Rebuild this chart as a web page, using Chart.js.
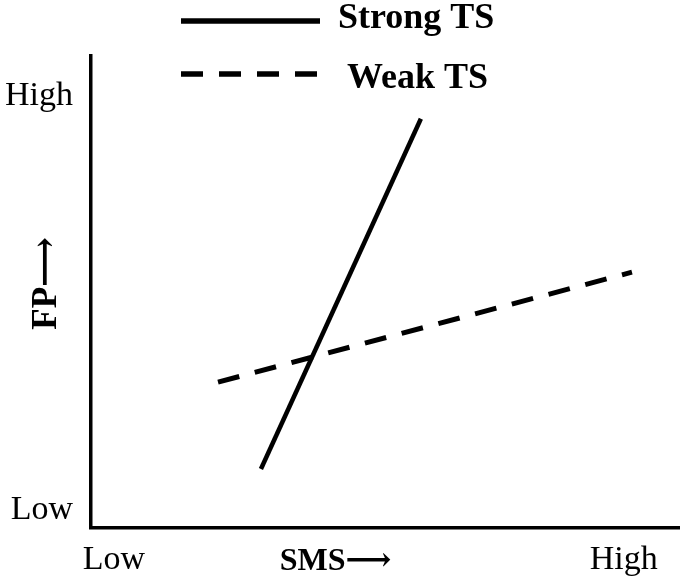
<!DOCTYPE html>
<html>
<head>
<meta charset="utf-8">
<script src="https://cdn.jsdelivr.net/npm/chart.js@4.4.1/dist/chart.umd.min.js"></script>
<style>
  html, body { margin: 0; padding: 0; background: #ffffff; }
  #wrap { width: 685px; height: 580px; }
</style>
</head>
<body>
<div id="wrap"><canvas id="c" width="685" height="580"></canvas></div>
<script>
// ---- data ----
const seriesNames = ['Strong TS', 'Weak TS'];
const strongX = [28.9, 56.1];
const strongY = [12.5, 86.7];
const weakX = [21.6, 92.0];
const weakY = [30.9, 54.2];
const xTickValues = [3.9, 41.6, 90.6];
const xTickLabels = ['Low', 'SMS\u27F6', 'High'];
const yTickValues = [3.9, 91.6];
const yTickLabels = ['Low', 'High'];
const yTitle = '  FP\u27F6';

const toPoints = (xs, ys) => xs.map((x, i) => ({ x: x, y: ys[i] }));
const SERIF = '"Liberation Serif", "Times New Roman", "DejaVu Serif", serif';

const legendPlugin = {
  id: 'manualLegend',
  afterDraw(chart, args, opts) {
    const ctx = chart.ctx;
    chart.data.datasets.forEach((ds, i) => {
      const r = opts.rows[i];
      ctx.save();
      ctx.strokeStyle = ds.borderColor;
      ctx.lineWidth = opts.lineWidth;
      ctx.lineCap = 'butt';
      ctx.setLineDash(ds.borderDash || []);
      ctx.beginPath();
      ctx.moveTo(r.x0, r.y);
      ctx.lineTo(r.x1, r.y);
      ctx.stroke();
      ctx.setLineDash([]);
      ctx.font = 'bold 36px ' + SERIF;
      ctx.fillStyle = '#000';
      ctx.textBaseline = 'alphabetic';
      ctx.textAlign = 'left';
      ctx.fillText(ds.label, r.tx, r.ty);
      ctx.restore();
    });
  }
};

new Chart(document.getElementById('c'), {
  type: 'scatter',
  data: {
    datasets: [
      {
        label: seriesNames[0],
        data: toPoints(strongX, strongY),
        showLine: true,
        borderColor: '#000',
        borderWidth: 4.5,
        borderDash: [],
        pointRadius: 0,
        borderCapStyle: 'butt'
      },
      {
        label: seriesNames[1],
        data: toPoints(weakX, weakY),
        showLine: true,
        borderColor: '#000',
        borderWidth: 5,
        borderDash: [22, 16],
        pointRadius: 0,
        borderCapStyle: 'butt'
      }
    ]
  },
  options: {
    responsive: false,
    animation: false,
    devicePixelRatio: 1,
    layout: { padding: { top: 56, right: 6, bottom: 0, left: 0 } },
    plugins: {
      legend: { display: false },
      tooltip: { enabled: false },
      manualLegend: {
        lineWidth: 5.5,
        rows: [
          { x0: 181, x1: 320, y: 21, tx: 338, ty: 28 },
          { x0: 181, x1: 317, y: 74, tx: 347, ty: 88 }
        ]
      }
    },
    scales: {
      x: {
        type: 'linear',
        min: 0,
        max: 100,
        grid: { display: false, drawTicks: false },
        border: { display: true, color: '#000', width: 3.5 },
        afterBuildTicks: (s) => { s.ticks = xTickValues.map(v => ({ value: v })); },
        afterFit: (s) => { s.height = 52; },
        ticks: {
          autoSkip: false,
          maxRotation: 0,
          padding: 12,
          color: '#000',
          callback: (v, i) => xTickLabels[i],
          font: (ctx) => ctx.index === 1
            ? { family: SERIF, size: 32, weight: 'bold', lineHeight: 1.35 }
            : { family: SERIF, size: 34, weight: 'normal', lineHeight: 1.2 }
        }
      },
      y: {
        type: 'linear',
        min: 0,
        max: 100,
        grid: { display: false, drawTicks: false },
        border: { display: true, color: '#000', width: 3.5 },
        afterBuildTicks: (s) => { s.ticks = yTickValues.map(v => ({ value: v })); },
        afterFit: (s) => { s.width = 91; },
        ticks: {
          autoSkip: false,
          padding: 18,
          color: '#000',
          callback: (v, i) => yTickLabels[i],
          font: { family: SERIF, size: 34 }
        },
        title: {
          display: true,
          text: yTitle,
          color: '#000',
          font: { family: SERIF, size: 35, weight: 'bold' },
          padding: { top: 26, bottom: 0 }
        }
      }
    }
  },
  plugins: [legendPlugin]
});
</script>
</body>
</html>
